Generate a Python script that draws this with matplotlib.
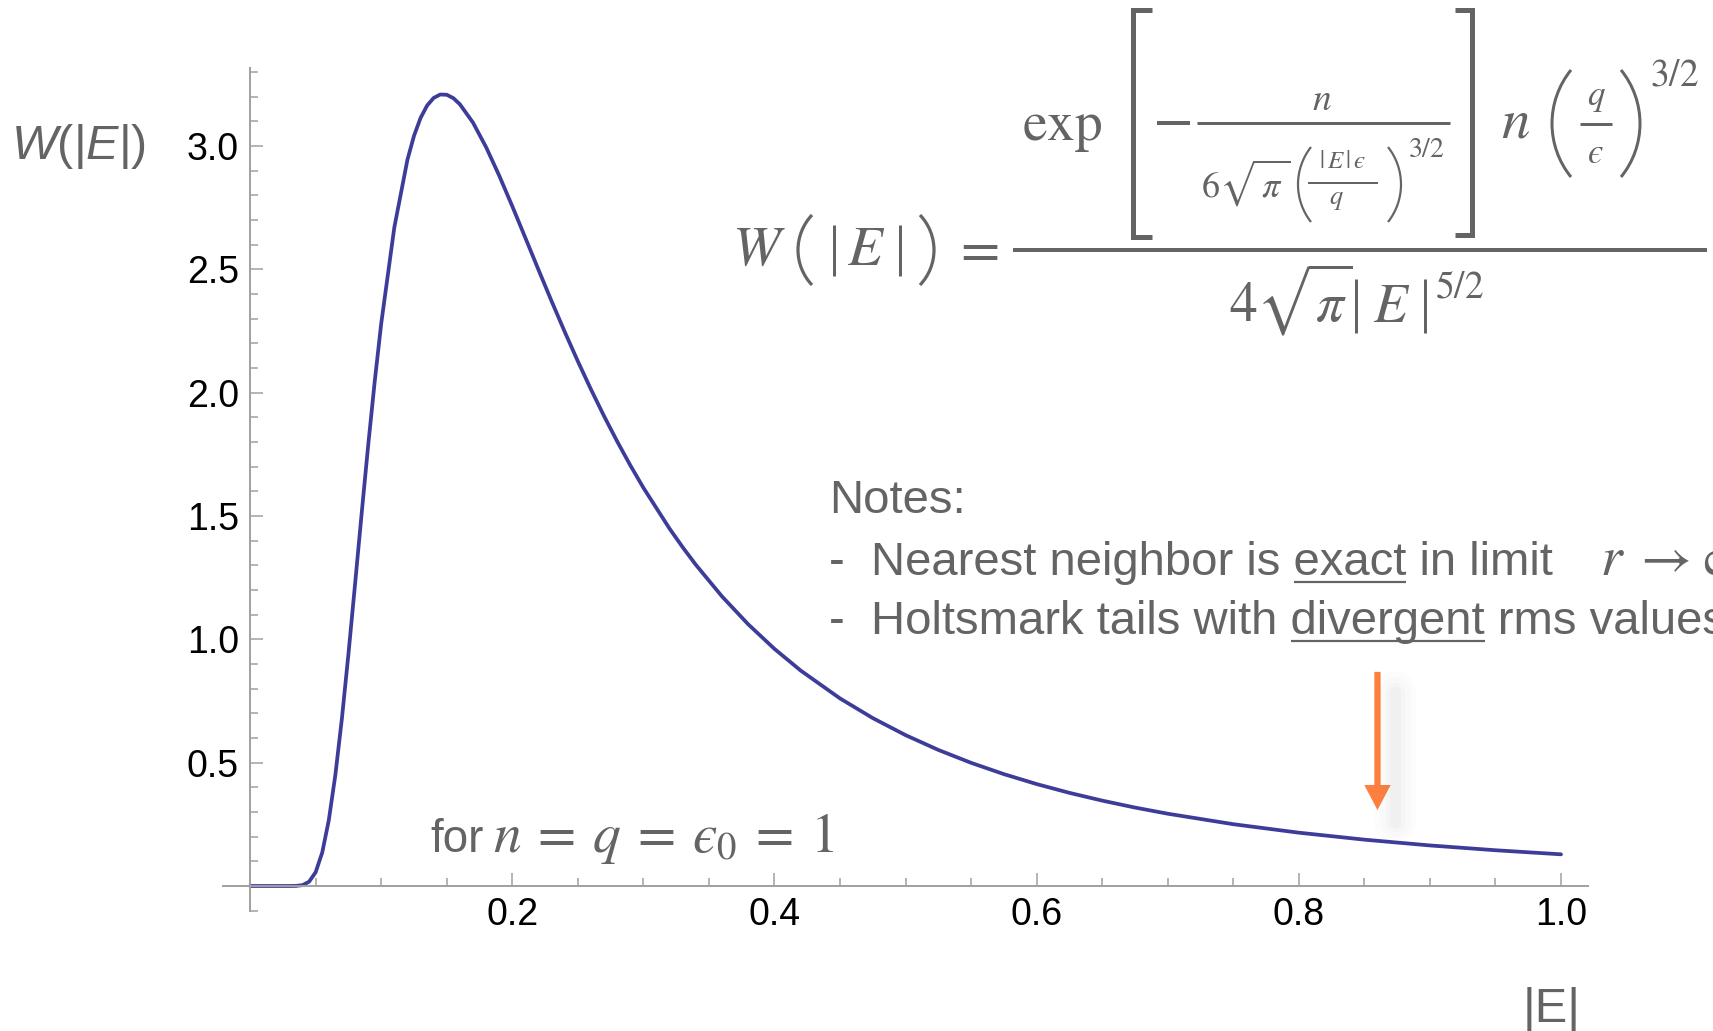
import math
import matplotlib.pyplot as plt
from matplotlib.lines import Line2D
from matplotlib.patches import Arc, FancyArrowPatch, ArrowStyle
from matplotlib.ticker import MultipleLocator
from matplotlib.transforms import Affine2D

# values (n = q = eps0 = 1)
E_vals = [0.0, 0.01, 0.02, 0.03, 0.035, 0.04, 0.045, 0.05, 0.055, 0.06,
          0.065, 0.07, 0.075, 0.08, 0.085, 0.09, 0.095, 0.10, 0.11, 0.12,
          0.125, 0.13, 0.135, 0.14, 0.145, 0.15, 0.155, 0.16, 0.17, 0.18,
          0.19, 0.20, 0.21, 0.22, 0.23, 0.24, 0.25, 0.26, 0.27, 0.28,
          0.29, 0.30, 0.32, 0.33, 0.34, 0.36, 0.38, 0.40, 0.42, 0.45,
          0.475, 0.50, 0.525, 0.55, 0.575, 0.60, 0.625, 0.65, 0.675, 0.70,
          0.75, 0.80, 0.85, 0.90, 0.95, 1.00]
W_vals = [0.0, 0.0, 0.0, 0.0, 0.0004, 0.0035, 0.0173, 0.0561, 0.1357, 0.2663,
          0.4496, 0.6786, 0.9408, 1.2214, 1.5062, 1.7836, 2.0436, 2.2803, 2.6702, 2.9443,
          3.0412, 3.1136, 3.1640, 3.1948, 3.2087, 3.2077, 3.1941, 3.1692, 3.0949, 2.9953,
          2.8800, 2.7556, 2.6270, 2.4978, 2.3704, 2.2465, 2.1272, 2.0133, 1.9049, 1.8024,
          1.7056, 1.6145, 1.4484, 1.3730, 1.3022, 1.1737, 1.0607, 0.9612, 0.8734, 0.7604,
          0.6806, 0.6116, 0.5516, 0.4993, 0.4535, 0.4132, 0.3776, 0.3461, 0.3180, 0.2930,
          0.2505, 0.2161, 0.1878, 0.1644, 0.1449, 0.1284]

x_ticks = [0.2, 0.4, 0.6, 0.8, 1.0]
x_ticklabels = ['0.2', '0.4', '0.6', '0.8', '1.0']
y_ticks = [0.5, 1.0, 1.5, 2.0, 2.5, 3.0]
y_ticklabels = ['0.5', '1.0', '1.5', '2.0', '2.5', '3.0']

arrow_x = 0.86
arrow_from = 0.868
arrow_to = 0.308

plt.rcParams['font.family'] = 'Liberation Sans'
plt.rcParams['mathtext.fontset'] = 'custom'
plt.rcParams['mathtext.rm'] = 'Liberation Sans'
plt.rcParams['mathtext.it'] = 'Liberation Sans:italic'

gray = '#646464'
axis_gray = '#a0a0a0'
curve_col = '#3d3d99'
orange = '#ff7f3f'
eps = '\u03f5'

W, H = 1713, 1031
fig = plt.figure(figsize=(W / 100, H / 100), dpi=100)
# pixel coordinates, origin top-left
pix = Affine2D().scale(1, -1).translate(0, H)
PT = 0.72  # points per pixel at 100 dpi

# axes box in pixels: x from 223 to 1588, y from 68 to 911
ax = fig.add_axes([223 / W, 1 - 911 / H, (1588 - 223) / W, (911 - 68) / H])
ax.set_xlim(-0.0207, 1.0206)
ax.set_ylim(-0.1014, 3.3162)

ax.plot(E_vals, W_vals, color=curve_col, lw=2.7, solid_capstyle='round')

for s in ['top', 'right']:
    ax.spines[s].set_visible(False)
ax.spines['left'].set_position(('data', 0))
ax.spines['bottom'].set_position(('data', 0))
for s in ['left', 'bottom']:
    ax.spines[s].set_color(axis_gray)
    ax.spines[s].set_linewidth(1.4)

ax.set_xticks(x_ticks)
ax.set_xticklabels(x_ticklabels)
ax.set_yticks(y_ticks)
ax.set_yticklabels(y_ticklabels)
ax.xaxis.set_minor_locator(MultipleLocator(0.05))
ax.yaxis.set_minor_locator(MultipleLocator(0.1))
ax.tick_params(which='both', direction='in', color=axis_gray, width=1.1,
               labelsize=27, labelcolor='black', pad=8)
ax.tick_params(which='major', length=9.5)
ax.tick_params(which='minor', length=5.8)

# orange arrow with soft shadow
for lw, a in [(30, 0.018), (22, 0.022), (14, 0.03), (8, 0.04)]:
    ax.plot([arrow_x + 0.013, arrow_x + 0.013], [arrow_from - 0.08, arrow_to - 0.05],
            color='#808080', lw=lw, alpha=a, solid_capstyle='round')
arr = FancyArrowPatch((arrow_x, arrow_from), (arrow_x, arrow_to),
                      arrowstyle=ArrowStyle('simple', head_length=18, head_width=19,
                                            tail_width=4.5),
                      mutation_scale=1, lw=0, color=orange, shrinkA=0, shrinkB=0)
ax.add_patch(arr)

# axis labels
fig.text(11, 159, r'$W(|E|)$', transform=pix, fontsize=35, color=gray,
         math_fontfamily='custom', va='baseline')
fig.text(1552, 1022, '|E|', transform=pix, fontsize=35, color=gray,
         ha='center', va='baseline')


# ---- formula, assembled piece by piece (pixel positions) ----
def mt(x, y, s, size, ha='left', va='baseline'):
    fig.text(x, y, s, transform=pix, fontsize=size, color=gray,
             math_fontfamily='stix', ha=ha, va=va)


def hline(x0, x1, y, lw):
    fig.add_artist(Line2D([x0, x1], [y, y], transform=pix, lw=lw * PT,
                          color=gray, solid_capstyle='butt'))


def vline(x, y0, y1, lw):
    fig.add_artist(Line2D([x, x], [y0, y1], transform=pix, lw=lw * PT,
                          color=gray, solid_capstyle='butt'))


def poly(xs, ys, lw):
    fig.add_artist(Line2D(xs, ys, transform=pix, lw=lw * PT, color=gray,
                          solid_capstyle='butt', solid_joinstyle='miter'))


def paren(xl, xr, yt, yb, left, lw=2.6):
    h = yb - yt
    d = xr - xl
    R = (h * h / 4 + d * d) / (2 * d)
    ym = (yt + yb) / 2
    th = math.degrees(math.asin(h / 2 / R))
    if left:
        c, t1, t2 = (xl + R, ym), 180 - th, 180 + th
    else:
        c, t1, t2 = (xr - R, ym), -th, th
    fig.add_artist(Arc(c, 2 * R, 2 * R, theta1=t1, theta2=t2, transform=pix,
                       lw=lw * PT, color=gray))


mt(759, 265, r'$W$', 41, ha='center')
paren(798, 812, 215, 285, True, lw=3.2)
vline(834, 225, 276, 3)
mt(866, 265, r'$E$', 41, ha='center')
vline(900, 225, 276, 3)
paren(920, 934, 215, 285, False, lw=3.2)
mt(975, 265, r'$=$', 41, ha='center')
hline(1013, 1707, 249.5, 4)

# numerator
mt(1022, 140, r'$\mathrm{exp}$', 40)
poly([1152, 1133, 1133, 1152], [10, 10, 237, 237], 5)
poly([1455, 1472, 1472, 1455], [10, 10, 235, 235], 5)
hline(1157, 1190, 123, 4)
hline(1197, 1450, 123, 3)
mt(1322, 110, r'$n$', 27, ha='center')
mt(1246, 197, r'$6\sqrt{\,\pi\,}$', 26, ha='center')
paren(1298, 1311, 147, 222, True, lw=2.2)
mt(1342, 168, r'$|\,E\,|\,' + eps + '$', 18, ha='center')
hline(1308, 1378, 183, 2)
mt(1336, 204, r'$q$', 19, ha='center')
paren(1388, 1401, 147, 222, False, lw=2.2)
mt(1408, 157, r'$3/2$', 20)
mt(1516, 138, r'$n$', 41, ha='center')
paren(1552, 1571, 70, 177, True, lw=3)
mt(1596, 105, r'$q$', 25, ha='center')
hline(1580, 1612, 123.5, 3)
mt(1595, 163, '$' + eps + '$', 25, ha='center')
paren(1621, 1640, 70, 177, False, lw=3)
mt(1650, 85, r'$3/2$', 27)

# denominator
mt(1229, 322, r'$4\sqrt{\pi}$', 40)
vline(1356, 279, 333, 3)
mt(1392, 322, r'$E$', 40, ha='center')
vline(1425, 279, 333, 3)
mt(1435, 297, r'$5/2$', 27)

# ---- notes ----
fig.canvas.draw()
r = fig.canvas.get_renderer()


def text_w(s, **kw):
    t = fig.text(0, 0, s, **kw)
    w = t.get_window_extent(r).width
    t.remove()
    return w


nfs = 34
nx = 829
line1 = 'Notes:'
line2_a = '-  Nearest neighbor is '
line2_u = 'exact'
line2_b = ' in limit'
line3_a = '-  Holtsmark tails with '
line3_u = 'divergent'
line3_b = ' rms values'

fig.text(nx, 513, line1, transform=pix, fontsize=nfs, color=gray, va='baseline')
fig.text(nx, 575, line2_a + line2_u + line2_b, transform=pix, fontsize=nfs,
         color=gray, va='baseline')
fig.text(nx, 634, line3_a + line3_u + line3_b, transform=pix, fontsize=nfs,
         color=gray, va='baseline')
w2 = text_w(line2_a + line2_u + line2_b, fontsize=nfs)
mt(max(nx + w2 + 20, 1600), 575, r'$r\;\rightarrow\infty$', 40)

for pre, word, yb in [(line2_a, line2_u, 575), (line3_a, line3_u, 634)]:
    full = text_w(pre + word, fontsize=nfs)
    x1 = nx + full
    x0 = x1 - text_w(word, fontsize=nfs)
    hline(x0, x1, yb + 7, 2.2)

# parameter note
fig.text(430, 852, 'for', transform=pix, fontsize=33, color=gray, va='baseline')
wf = text_w('for', fontsize=33)
mt(430 + wf + 10, 852, r'$n\:=\:q\:=\:' + eps + r'_0\:=\:1$', 40)

fig.savefig('out.png', dpi=100)
